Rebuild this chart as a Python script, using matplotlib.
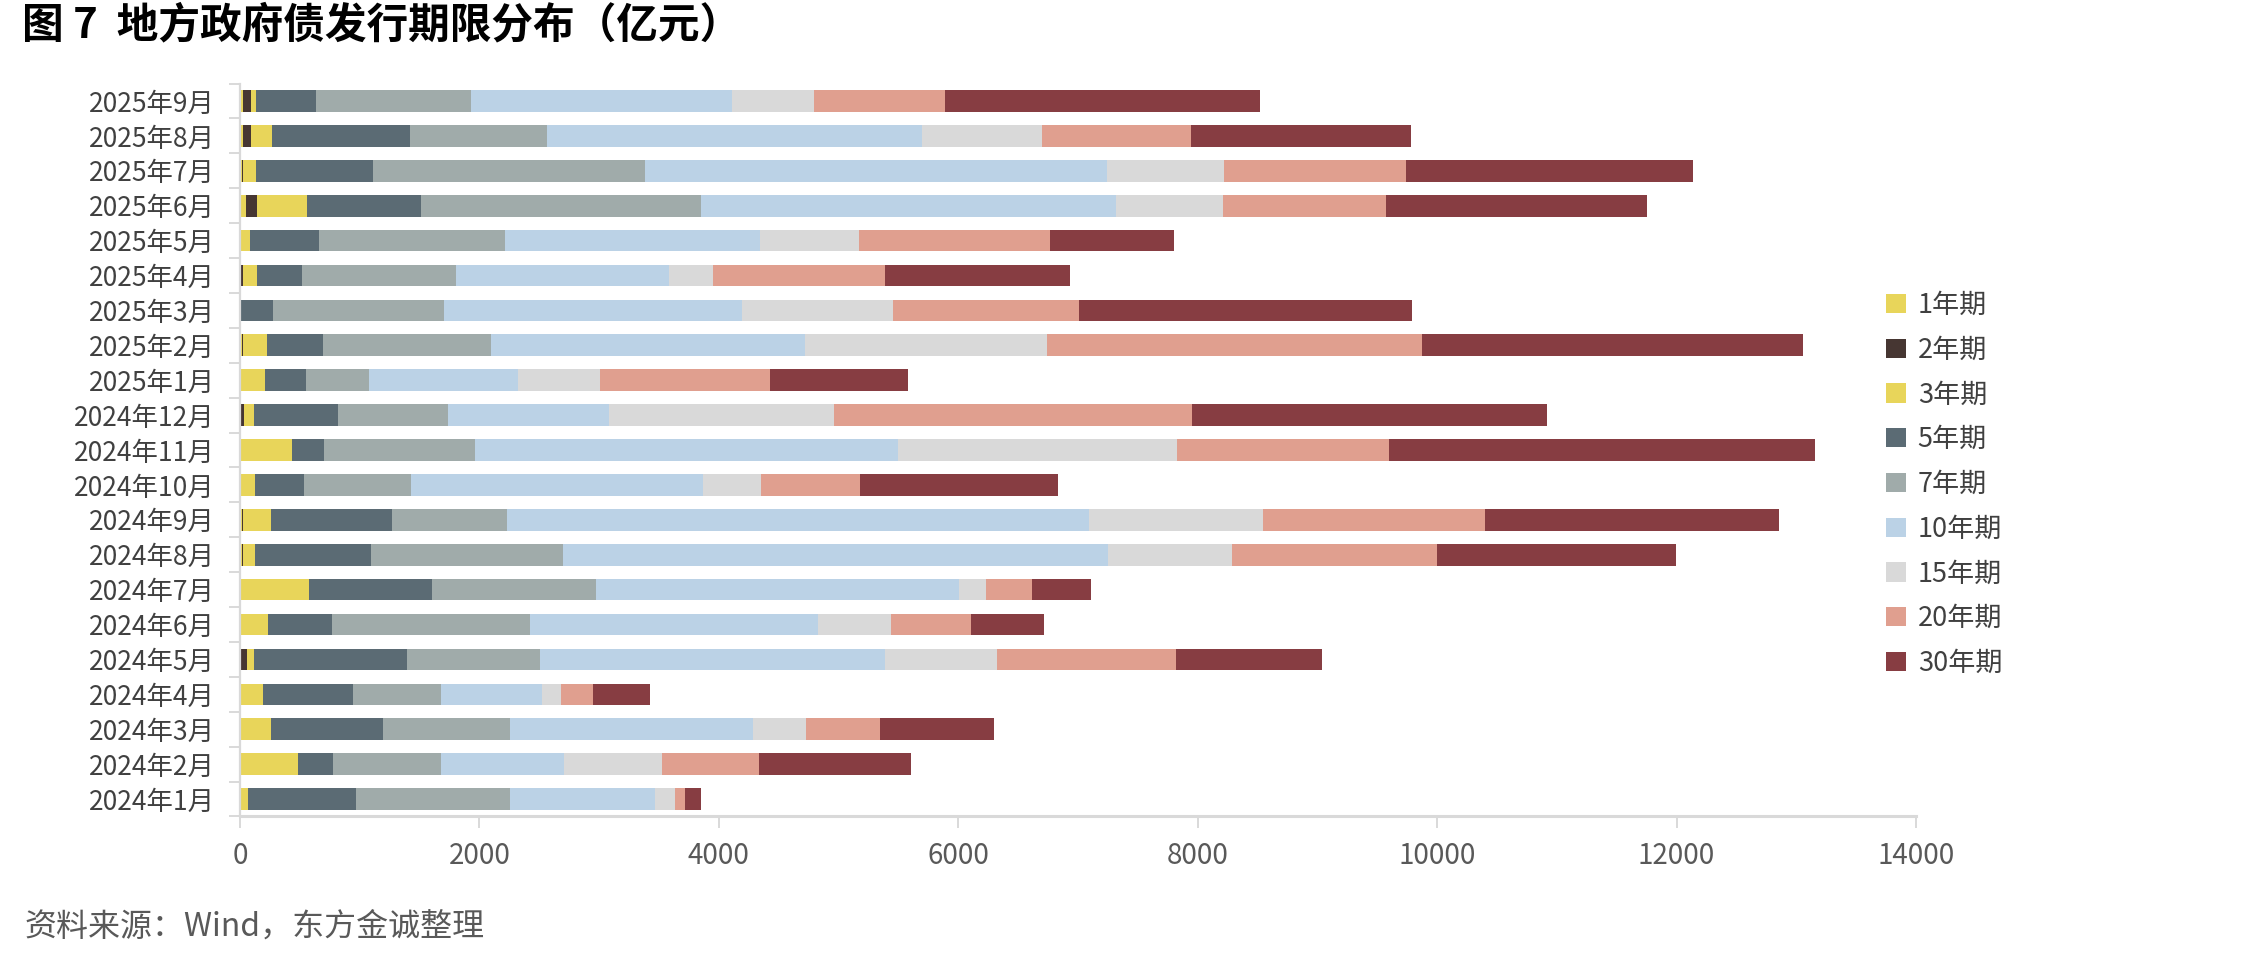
import matplotlib
matplotlib.use('Agg')
import matplotlib.pyplot as plt
import numpy as np
from matplotlib.ticker import FixedLocator

plt.rcParams['font.family'] = ['Noto Sans CJK SC', 'DejaVu Sans']

months = ['2024年1月', '2024年2月', '2024年3月', '2024年4月', '2024年5月', '2024年6月',
          '2024年7月', '2024年8月', '2024年9月', '2024年10月', '2024年11月', '2024年12月',
          '2025年1月', '2025年2月', '2025年3月', '2025年4月', '2025年5月', '2025年6月',
          '2025年7月', '2025年8月', '2025年9月']

y1 = [0, 0, 0, 0, 8, 0, 0, 17, 17, 0, 0, 0, 0, 15, 0, 8, 0, 50, 17, 28, 25]
y2 = [0, 0, 0, 0, 50, 0, 0, 8, 8, 0, 0, 33, 0, 10, 0, 14, 0, 92, 8, 64, 67]
y3 = [66, 483, 258, 192, 59, 233, 576, 99, 233, 124, 434, 84, 208, 200, 0, 120, 84, 418, 109, 175, 42]
y5 = [902, 293, 935, 751, 1278, 535, 1025, 970, 1010, 409, 266, 701, 343, 467, 275, 376, 576, 951, 976, 1153, 500]
y7 = [1285, 901, 1060, 734, 1108, 1652, 1373, 1601, 960, 894, 1263, 917, 525, 1401, 1427, 1286, 1553, 2339, 2273, 1144, 1293]
y10 = [1213, 1029, 2032, 844, 2885, 2406, 3031, 4556, 4867, 2441, 3534, 1347, 1246, 2628, 2490, 1778, 2131, 3467, 3861, 3134, 2183]
y15 = [167, 818, 442, 159, 935, 611, 225, 1037, 1450, 486, 2332, 1880, 684, 2021, 1262, 368, 826, 895, 978, 1001, 683]
y20 = [83, 810, 618, 268, 1496, 671, 387, 1714, 1856, 826, 1770, 2989, 1421, 3134, 1556, 1438, 1595, 1363, 1522, 1245, 1097]
y30 = [134, 1271, 955, 477, 1221, 608, 492, 1997, 2451, 1651, 3554, 2969, 1152, 3184, 2782, 1546, 1037, 2180, 2396, 1840, 2630]

series_names = ['1年期', '2年期', '3年期', '5年期', '7年期', '10年期', '15年期', '20年期', '30年期']
series_vals = [y1, y2, y3, y5, y7, y10, y15, y20, y30]
colors = ['#E8D55A', '#463632', '#E8D55A', '#5B6B74', '#A0ABAA', '#BBD2E6', '#D9D9D9', '#E09F8F', '#873D42']

xticks = [0, 2000, 4000, 6000, 8000, 10000, 12000, 14000]

fig = plt.figure(figsize=(22.44, 9.59), dpi=100)
ax = fig.add_axes([0.10695, 0.1486, 0.74688, 0.7643])

ypos = np.arange(len(months))
left = np.zeros(len(months))
handles = []
for name, vals, c in zip(series_names, series_vals, colors):
    v = np.array(vals, dtype=float)
    b = ax.barh(ypos, v, left=left, height=0.62, color=c, linewidth=0, label=name)
    handles.append(b)
    left += v

ax.set_xlim(0, 14000)
ax.set_ylim(-0.5, len(months) - 0.5)
ax.set_xticks(xticks)
ax.set_xticklabels([str(t) for t in xticks])
ax.set_yticks(ypos)
ax.set_yticklabels(months)
ax.yaxis.set_minor_locator(FixedLocator(np.arange(-0.5, len(months), 1.0)))

for s in ['top', 'right']:
    ax.spines[s].set_visible(False)
ax.spines['left'].set_color('#D9D9D9')
ax.spines['left'].set_linewidth(1.6)
ax.spines['bottom'].set_color('#D9D9D9')
ax.spines['bottom'].set_linewidth(2.2)

ax.tick_params(axis='y', which='major', length=0, pad=18, labelsize=19, labelcolor='#404040')
ax.tick_params(axis='y', which='minor', length=8, width=1.4, color='#D9D9D9', direction='out')
ax.tick_params(axis='x', which='major', length=8.5, width=1.4, color='#D9D9D9', direction='out',
               pad=9, labelsize=20, labelcolor='#595959')

leg = fig.legend(handles=handles, labels=series_names, loc='upper left',
                 bbox_to_anchor=(1886 / 2244, 1 - 292 / 959), frameon=False,
                 fontsize=19.5, handlelength=0.72, handleheight=0.72, handletextpad=0.45,
                 labelspacing=0.655, borderaxespad=0, borderpad=0)
for t in leg.get_texts():
    t.set_color('#404040')

fig.text(22 / 2244, 1 - 25 / 959, '图 7  地方政府债发行期限分布（亿元）', fontsize=30,
         fontweight='bold', color='#000000', va='center', ha='left')
fig.text(24 / 2244, 1 - 927 / 959, '资料来源：Wind，东方金诚整理', fontsize=23,
         color='#595959', va='center', ha='left')

fig.savefig('out.png', dpi=100)
